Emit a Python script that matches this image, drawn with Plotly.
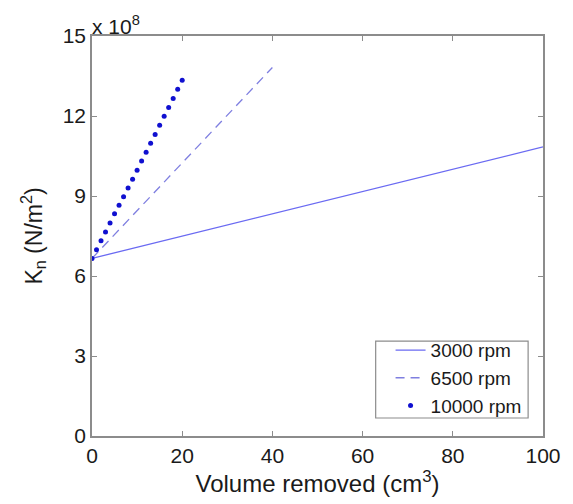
import plotly.graph_objects as go

# Normal stiffness K_n (in units of 1e8 N/m^2) versus removed volume (cm^3)
vol_3000 = [0, 100]
kn_3000 = [6.66, 10.84]

vol_6500 = [0, 40]
kn_6500 = [6.66, 13.82]

vol_10000 = list(range(0, 21))
kn_10000 = [6.66, 6.98, 7.32, 7.65, 7.99, 8.33, 8.65, 8.97, 9.30, 9.63, 9.97,
            10.31, 10.64, 10.98, 11.31, 11.65, 11.99, 12.32, 12.66, 13.00, 13.34]

x_ticks = [0, 20, 40, 60, 80, 100]
y_ticks = [0, 3, 6, 9, 12, 15]

FONT = "Liberation Sans, Arial, sans-serif"
AXIS_GREY = "#8c8c8c"
TEXT = "#1a1a1a"

fig = go.Figure()
fig.add_trace(go.Scatter(x=vol_3000, y=kn_3000, mode="lines", name="3000 rpm",
                         line=dict(color="#6a6af2", width=1.3)))
fig.add_trace(go.Scatter(x=vol_6500, y=kn_6500, mode="lines", name="6500 rpm",
                         line=dict(color="#7f7fe0", width=1.3, dash="9px,6px")))
fig.add_trace(go.Scatter(x=vol_10000, y=kn_10000, mode="markers", name="10000 rpm",
                         marker=dict(color="#1010d0", size=5)))

axis_common = dict(
    showgrid=False, zeroline=False, showline=True, linecolor=AXIS_GREY, linewidth=1.5,
    mirror="ticks", ticks="inside", ticklen=5, tickcolor=AXIS_GREY,
    tickfont=dict(family=FONT, size=21, color=TEXT),
)

fig.update_xaxes(range=[0, 100], tickvals=x_ticks, ticktext=[str(v) for v in x_ticks],
                 title=dict(text="Volume removed (cm<sup>3</sup>)",
                            font=dict(family=FONT, size=24, color=TEXT), standoff=8),
                 **axis_common)
fig.update_yaxes(range=[0, 15], tickvals=y_ticks, ticktext=[str(v) for v in y_ticks],
                 title=dict(text="K<sub>n</sub> (N/m<sup>2</sup>)",
                            font=dict(family=FONT, size=23, color=TEXT), standoff=14),
                 **axis_common)

fig.add_annotation(text="x 10<sup>8</sup>", xref="paper", yref="paper", x=0, y=1,
                   xanchor="left", yanchor="bottom", showarrow=False, xshift=-2, yshift=-4,
                   font=dict(family=FONT, size=21, color=TEXT))

# Framed white panel behind the legend entries
fig.add_shape(type="rect", xref="paper", yref="paper",
              x0=0.629, x1=0.967, y0=0.045, y1=0.237,
              line=dict(color=AXIS_GREY, width=1.2), fillcolor="white", layer="above")

fig.update_layout(
    width=573, height=504,
    margin=dict(l=92, r=28, t=36, b=67),
    paper_bgcolor="white", plot_bgcolor="white",
    showlegend=True,
    legend=dict(x=0.662, y=0.027, xanchor="left", yanchor="bottom",
                bgcolor="rgba(0,0,0,0)", borderwidth=0,
                font=dict(family=FONT, size=19, color=TEXT),
                itemwidth=30, tracegroupgap=0),
)

fig.write_html("out.html")
